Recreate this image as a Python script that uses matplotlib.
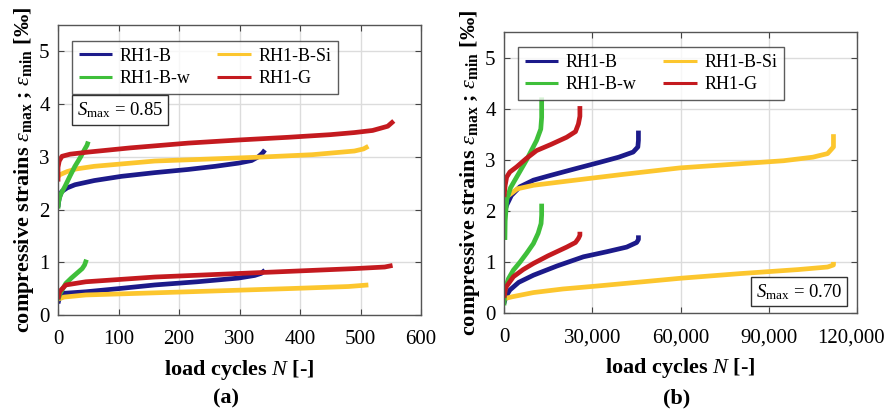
import matplotlib
matplotlib.use("Agg")
import matplotlib.pyplot as plt
import matplotlib.transforms as mtransforms
from matplotlib.ticker import FuncFormatter

plt.rcParams['font.family'] = ['Liberation Serif', 'DejaVu Serif']
plt.rcParams['mathtext.fontset'] = 'custom'
plt.rcParams['mathtext.rm'] = 'Liberation Serif'
plt.rcParams['mathtext.it'] = 'Liberation Serif:italic'
plt.rcParams['mathtext.bf'] = 'Liberation Serif:bold'

series = ["RH1-B", "RH1-B-Si", "RH1-B-w", "RH1-G"]
colors = {"RH1-B": "#1c1a8a", "RH1-B-Si": "#fcc62e", "RH1-B-w": "#3fbf3a", "RH1-G": "#c41a1f"}

# Panel (a): S_max = 0.85
a_max = {
    "RH1-B": ([0, 2, 6, 15, 28, 60, 105, 160, 215, 260, 298, 320, 331, 338, 342],
              [2.05, 2.22, 2.34, 2.41, 2.47, 2.55, 2.63, 2.7, 2.76, 2.82, 2.88, 2.93, 3.0, 3.07, 3.13]),
    "RH1-B-Si": ([0, 3, 15, 30, 60, 160, 325, 420, 490, 505, 513],
                 [2.62, 2.66, 2.72, 2.77, 2.82, 2.92, 2.99, 3.04, 3.11, 3.15, 3.2]),
    "RH1-B-w": ([0, 1, 4, 11.6, 20, 28, 37, 44, 48, 50],
                [2.02, 2.15, 2.28, 2.44, 2.64, 2.82, 2.99, 3.14, 3.22, 3.29]),
    "RH1-G": ([0, 0, 2, 6.6, 20, 50, 120, 215, 300, 380, 450, 490, 520, 545, 555],
              [2.53, 2.8, 2.92, 3.01, 3.05, 3.09, 3.17, 3.26, 3.32, 3.37, 3.42, 3.46, 3.5, 3.58, 3.68]),
}
a_min = {
    "RH1-B": ([0, 3, 8, 46, 100, 160, 230, 298, 325, 336, 342],
              [0.22, 0.36, 0.41, 0.44, 0.5, 0.57, 0.63, 0.7, 0.75, 0.79, 0.85]),
    "RH1-B-Si": ([0, 10, 46, 215, 380, 480, 513],
                 [0.3, 0.34, 0.38, 0.44, 0.5, 0.54, 0.57]),
    "RH1-B-w": ([0, 4, 13, 22, 31, 40, 44, 47],
                [0.29, 0.42, 0.6, 0.7, 0.79, 0.88, 0.95, 1.05]),
    "RH1-G": ([0, 3, 13, 46, 160, 325, 490, 540, 553],
              [0.3, 0.45, 0.57, 0.63, 0.72, 0.8, 0.88, 0.91, 0.94]),
}

# Panel (b): S_max = 0.70
b_max = {
    "RH1-B": ([0, 900, 2500, 5400, 10000, 15600, 24000, 32600, 39000, 43900, 45500, 45700, 45700],
              [1.95, 2.11, 2.3, 2.47, 2.6, 2.69, 2.82, 2.95, 3.05, 3.15, 3.25, 3.38, 3.57]),
    "RH1-B-Si": ([0, 900, 4500, 10000, 21300, 40000, 59800, 80000, 95000, 105000, 110000, 112000, 112000],
                 [1.95, 2.27, 2.43, 2.5, 2.58, 2.71, 2.84, 2.92, 2.98, 3.05, 3.12, 3.25, 3.5]),
    "RH1-B-w": ([300, 400, 900, 2200, 4300, 7700, 11100, 12500, 12800, 12800],
                [1.43, 1.8, 2.21, 2.45, 2.66, 3.0, 3.38, 3.6, 3.83, 4.22]),
    "RH1-G": ([0, 400, 900, 2000, 4300, 7500, 11100, 16000, 21300, 24300, 25300, 25800, 25800],
              [2.27, 2.5, 2.66, 2.76, 2.86, 3.02, 3.18, 3.3, 3.44, 3.55, 3.7, 3.85, 4.05]),
}
b_min = {
    "RH1-B": ([0, 700, 2000, 5000, 10000, 18000, 27000, 35000, 41700, 45100, 45700, 45700],
              [0.19, 0.33, 0.45, 0.6, 0.74, 0.92, 1.1, 1.2, 1.29, 1.38, 1.44, 1.52]),
    "RH1-B-Si": ([0, 3000, 10000, 20000, 32000, 47000, 60000, 80000, 100000, 110000, 112000, 112000],
                 [0.28, 0.32, 0.4, 0.47, 0.53, 0.61, 0.68, 0.77, 0.85, 0.9, 0.94, 1.0]),
    "RH1-B-w": ([0, 300, 1500, 3200, 5500, 7700, 10000, 11600, 12600, 12800, 12800],
                [0.15, 0.45, 0.67, 0.84, 1.0, 1.17, 1.36, 1.56, 1.75, 1.92, 2.14]),
    "RH1-G": ([0, 600, 3200, 6500, 10000, 15000, 21300, 24300, 25300, 25800, 25800],
              [0.3, 0.5, 0.71, 0.85, 0.97, 1.12, 1.29, 1.38, 1.46, 1.52, 1.59]),
}

a_xticks = [0, 100, 200, 300, 400, 500, 600]
b_xticks = [0, 30000, 60000, 90000, 120000]
yticks = [0, 1, 2, 3, 4, 5]

W, H = 887, 412
fig = plt.figure(figsize=(W / 100, H / 100), dpi=100)

def px_axes(l, t, r, b):
    return fig.add_axes([l / W, 1 - b / H, (r - l) / W, (b - t) / H])

ax_a = px_axes(58, 25, 421, 315)
ax_b = px_axes(504, 32, 857, 313)

ylabel = r"compressive strains $\varepsilon_{\mathregular{max}}$ ; $\varepsilon_{\mathregular{min}}$ [‰]"

def style(ax, xticks, xmax, fmt=None):
    ax.set_xlim(0, xmax)
    ax.set_ylim(0, 5.5)
    ax.set_xticks(xticks)
    ax.set_yticks(yticks)
    if fmt:
        ax.xaxis.set_major_formatter(FuncFormatter(fmt))
    ax.grid(True, color="#dcdcdc", linewidth=1.0)
    ax.set_axisbelow(True)
    ax.tick_params(direction="in", length=4, labelsize=15, color="#444444",
                   top=True, right=True)
    ax.tick_params(axis="x", pad=11)
    ax.tick_params(axis="y", pad=6)
    for s in ax.spines.values():
        s.set_color("#555555")
        s.set_linewidth(1.0)
    ax.set_xlabel(r"load cycles $\mathit{N}$ [-]", fontsize=16, fontweight="bold", labelpad=6)
    ax.set_ylabel(ylabel, fontsize=16, fontweight="bold", labelpad=2)

def draw(ax, dmax, dmin):
    handles = {}
    for name in series:
        x, y = dmax[name]
        h, = ax.plot(x, y, color=colors[name], lw=3.4, solid_capstyle="butt",
                     solid_joinstyle="round", label=name)
        x2, y2 = dmin[name]
        ax.plot(x2, y2, color=colors[name], lw=3.4, solid_capstyle="butt",
                solid_joinstyle="round")
        handles[name] = h
    return [handles[n] for n in ["RH1-B", "RH1-B-w", "RH1-B-Si", "RH1-G"]]

legend_kw = dict(ncol=2, loc="upper left", borderaxespad=0, fontsize=13, frameon=True,
                 fancybox=False, edgecolor="#333333", handlelength=1.85, handletextpad=0.4,
                 columnspacing=1.5, borderpad=0.38, labelspacing=0.28)

for ax, dmax, dmin, xt, xm, fmt, anchor in [
    (ax_a, a_max, a_min, a_xticks, 600, None, (0.0386, 0.945)),
    (ax_b, b_max, b_min, b_xticks, 120000, lambda v, p: f"{int(v):,}", (0.0397, 0.9466)),
]:
    hs = draw(ax, dmax, dmin)
    style(ax, xt, xm, fmt)
    leg = ax.legend(handles=hs, bbox_to_anchor=anchor, **legend_kw)
    leg.get_frame().set_linewidth(1.0)
    for line in leg.get_lines():
        line.set_linewidth(2.2)

# shift last tick label of (b) slightly left, as in the reference
fig.canvas.draw()
last = ax_b.get_xticklabels()[-1]
last.set_transform(last.get_transform() + mtransforms.ScaledTranslation(-6 / 100, 0, fig.dpi_scale_trans))

box = dict(boxstyle="square,pad=0.25", facecolor="white", edgecolor="#333333", linewidth=1.0)
ax_a.text(0.052, 0.707, r"$\mathit{S}_{\mathregular{max}}$ = 0.85", transform=ax_a.transAxes,
          fontsize=13.5, ha="left", va="center", bbox=box)
ax_b.text(0.958, 0.075, r"$\mathit{S}_{\mathregular{max}}$ = 0.70", transform=ax_b.transAxes,
          fontsize=13.5, ha="right", va="center", bbox=box)

fig.text(226 / W, 1 - 398 / H, "(a)", fontsize=16, fontweight="bold", ha="center", va="center")
fig.text(677 / W, 1 - 398 / H, "(b)", fontsize=16, fontweight="bold", ha="center", va="center")

fig.savefig("out.png", dpi=100)
